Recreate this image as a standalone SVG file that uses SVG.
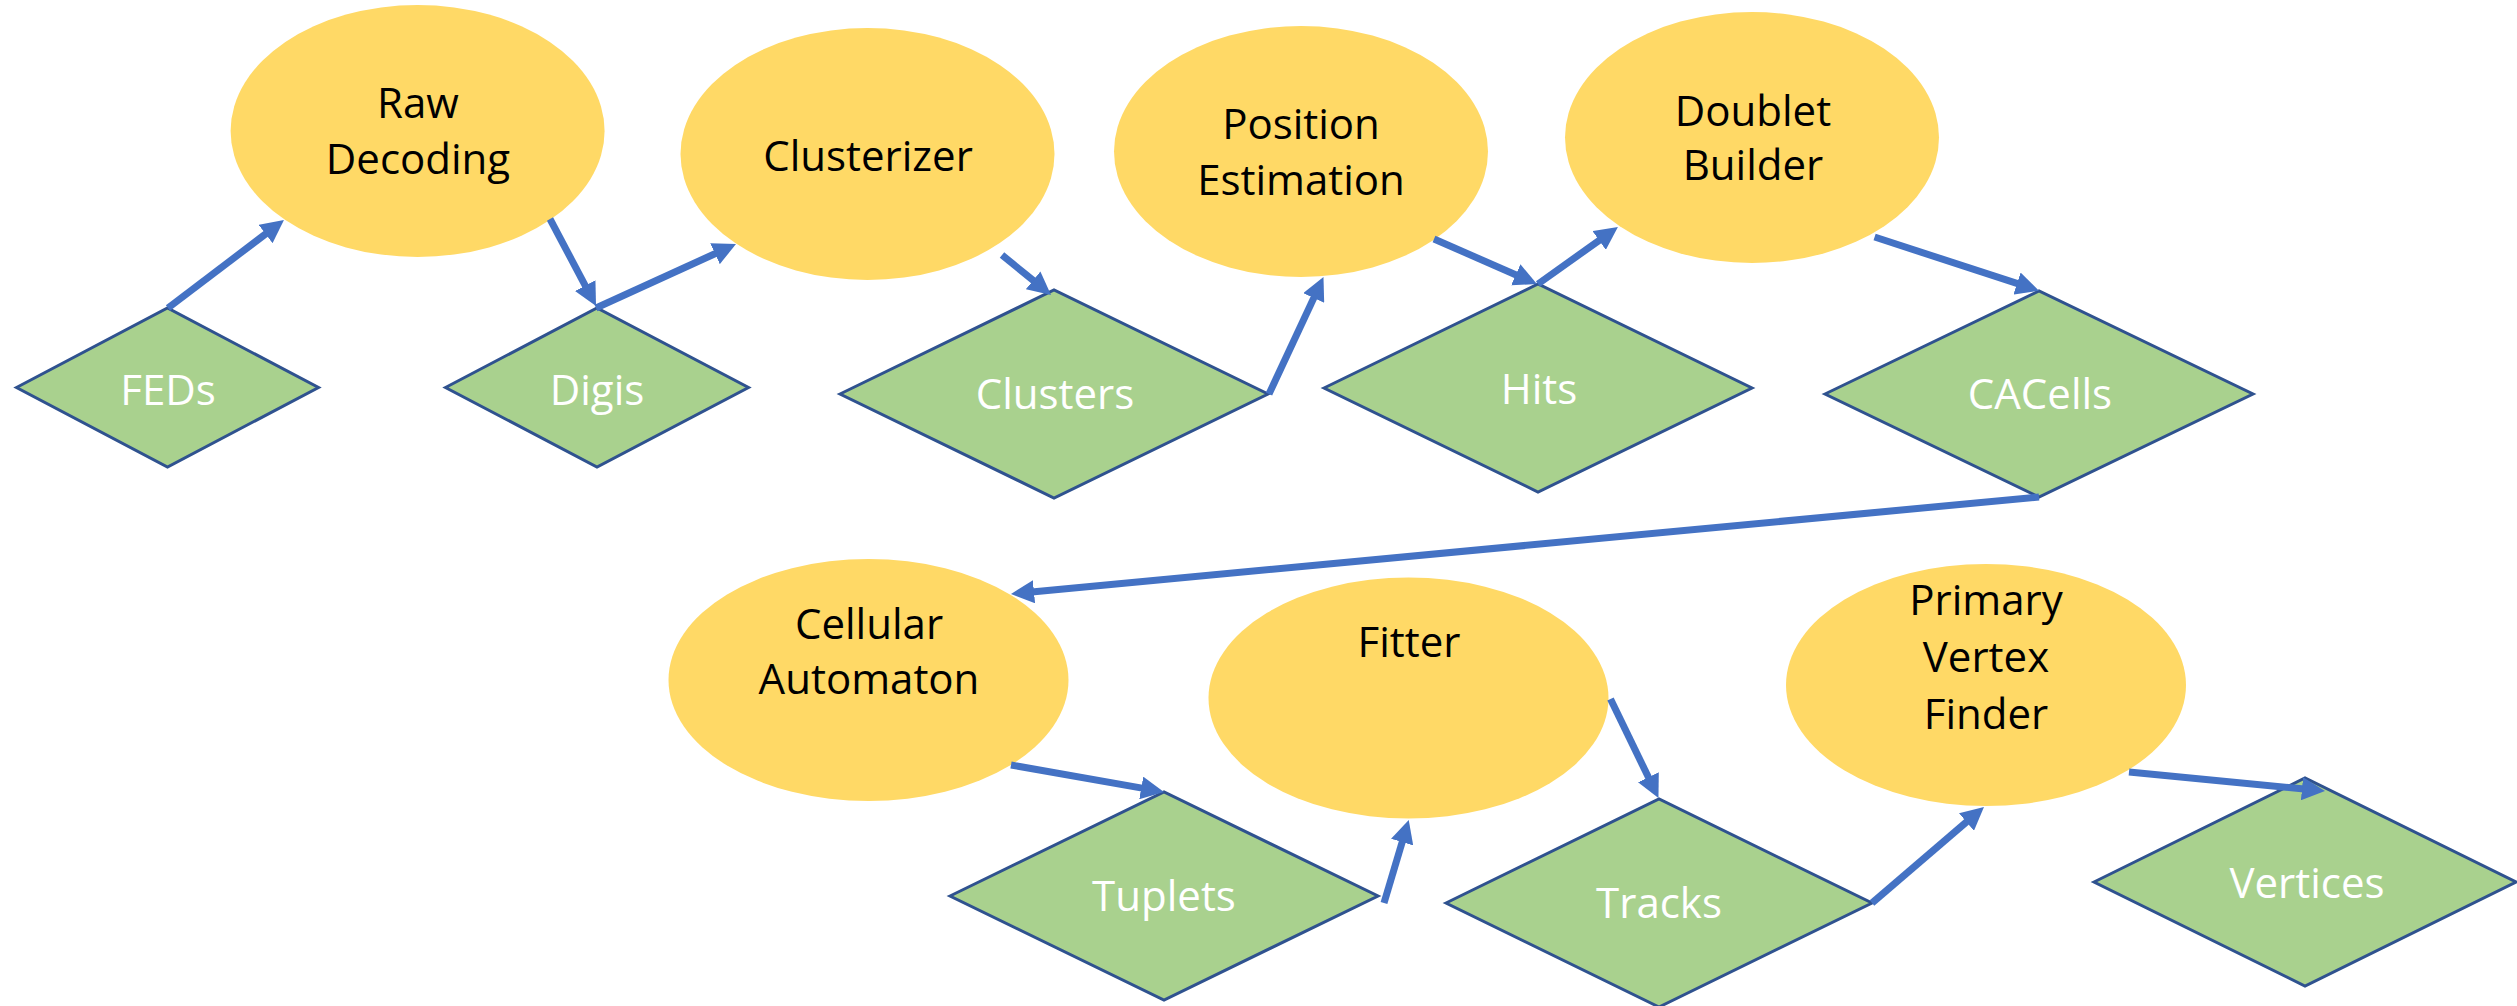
<svg xmlns="http://www.w3.org/2000/svg" width="2517" height="1006" viewBox="0 0 2517 1006">
<style>
.proc{fill:#FFD966;stroke:none}
.data{fill:#A9D18E;stroke:#2F528F;stroke-width:3;stroke-linejoin:miter}
.pt{font-family:"Open Sans","Noto Sans","Liberation Sans",sans-serif;font-size:42px;fill:#000;text-anchor:middle}
.dt{font-family:"Open Sans","Noto Sans","Liberation Sans",sans-serif;font-size:42px;fill:#fff;text-anchor:middle}
.arr{fill:none;stroke:#4472C4;stroke-width:7;marker-end:url(#ah)}
</style>
<defs>
<marker id="ah" viewBox="0 0 10 10" refX="1" refY="5" markerWidth="3.3" markerHeight="3.3" markerUnits="strokeWidth" orient="auto">
<path d="M0,0 L10,5 L0,10 z" fill="#4472C4"/>
</marker>
</defs>
<rect width="2517" height="1006" fill="#fff"/>
<g id="raw-decoding"><ellipse class="proc" cx="417.6" cy="131" rx="187" ry="126"/><text class="pt" x="418" y="118">Raw</text><text class="pt" x="418" y="174">Decoding</text></g>
<g id="clusterizer"><ellipse class="proc" cx="867.5" cy="154" rx="187" ry="126"/><text class="pt" x="868" y="171">Clusterizer</text></g>
<g id="position-estimation"><ellipse class="proc" cx="1301" cy="151.5" rx="187" ry="125.5"/><text class="pt" x="1301" y="139">Position</text><text class="pt" x="1301" y="195">Estimation</text></g>
<g id="doublet-builder"><ellipse class="proc" cx="1752" cy="137.5" rx="187" ry="125.5"/><text class="pt" x="1753" y="126">Doublet</text><text class="pt" x="1753" y="180">Builder</text></g>
<g id="cellular-automaton"><ellipse class="proc" cx="868.5" cy="680" rx="200" ry="121"/><text class="pt" x="869" y="639">Cellular</text><text class="pt" x="869" y="694">Automaton</text></g>
<g id="fitter"><ellipse class="proc" cx="1408.5" cy="698" rx="200" ry="120.5"/><text class="pt" x="1409" y="657">Fitter</text></g>
<g id="primary-vertex-finder"><ellipse class="proc" cx="1986" cy="685" rx="200" ry="121"/><text class="pt" x="1986" y="615">Primary</text><text class="pt" x="1986" y="672">Vertex</text><text class="pt" x="1986" y="729">Finder</text></g>
<g id="feds"><polygon class="data" points="16.5,387.5 167.5,308 318.5,387.5 167.5,467"/><text class="dt" x="168" y="405">FEDs</text></g>
<g id="digis"><polygon class="data" points="445.5,387.5 597,308 748.5,387.5 597,467"/><text class="dt" x="597" y="405">Digis</text></g>
<g id="clusters"><polygon class="data" points="840,394 1054,290 1268,394 1054,498"/><text class="dt" x="1055" y="409">Clusters</text></g>
<g id="hits"><polygon class="data" points="1324,388 1538,284 1752,388 1538,492"/><text class="dt" x="1539" y="404">Hits</text></g>
<g id="cacells"><polygon class="data" points="1825,394 2039,291 2253,394 2039,497"/><text class="dt" x="2040" y="409">CACells</text></g>
<g id="tuplets"><polygon class="data" points="950,896 1164,792 1378,896 1164,1000"/><text class="dt" x="1164" y="911">Tuplets</text></g>
<g id="tracks"><polygon class="data" points="1446,903 1659,799 1872,903 1659,1007"/><text class="dt" x="1659" y="918">Tracks</text></g>
<g id="vertices"><polygon class="data" points="2094,882 2305,778 2516,882 2305,986"/><text class="dt" x="2307" y="898">Vertices</text></g>
<g id="connectors">
<path class="arr" d="M168,308 L267.4,232.6"/>
<path class="arr" d="M550,219 L586.3,287.6"/>
<path class="arr" d="M596,308 L717.1,252.7"/>
<path class="arr" d="M1002,255 L1034.9,281.8"/>
<path class="arr" d="M1269,394 L1314.7,295.9"/>
<path class="arr" d="M1434,239 L1517.9,275.7"/>
<path class="arr" d="M1538,284 L1601,239.1"/>
<path class="arr" d="M1874.6,237 L2019.2,284.2"/>
<path class="arr" d="M2039,497 L1031.7,592"/>
<path class="arr" d="M1011,765 L1143.5,788.4"/>
<path class="arr" d="M1384,903 L1402.8,839.9"/>
<path class="arr" d="M1610.5,699 L1649.4,779.3"/>
<path class="arr" d="M1872,903 L1968.2,820.5"/>
<path class="arr" d="M2129,772 L2304.3,789"/>
</g>
</svg>
